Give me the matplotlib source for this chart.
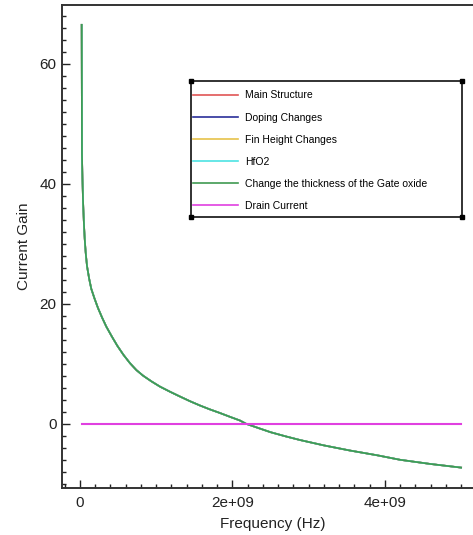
import matplotlib
matplotlib.use("Agg")
import matplotlib.pyplot as plt
from matplotlib.patches import Rectangle
from matplotlib.lines import Line2D
from matplotlib.ticker import MultipleLocator, FixedLocator, FixedFormatter

plt.rcParams['font.family'] = ['Liberation Sans', 'DejaVu Sans']

# ---- data ----
freq_ghz = [0.022, 0.026, 0.032, 0.039, 0.05, 0.062, 0.075, 0.092, 0.12, 0.148,
            0.19, 0.236, 0.29, 0.345, 0.42, 0.49, 0.57, 0.656, 0.74, 0.83,
            0.94, 1.049, 1.18, 1.311, 1.44, 1.574, 1.7, 1.836, 1.97, 2.098,
            2.18, 2.35, 2.5, 2.7, 2.885, 3.2, 3.54, 3.9, 4.2, 4.6, 5.0]
gain_main = [66.5, 45.0, 41.0, 37.5, 33.8, 30.8, 28.5, 26.3, 24.2, 22.5,
             20.9, 19.3, 17.7, 16.2, 14.5, 13.0, 11.5, 10.1, 8.95, 8.0,
             7.05, 6.2, 5.35, 4.55, 3.78, 3.05, 2.42, 1.8, 1.15, 0.55,
             0.0, -0.75, -1.4, -2.1, -2.7, -3.6, -4.45, -5.25, -6.0, -6.7, -7.3]
gain_doping = gain_main
gain_fin = gain_main
gain_hfo2 = gain_main
gain_oxide = gain_main
drain_freq_ghz = [0.022, 5.0]
drain_current = [0.0, 0.0]

series_labels = ["Main Structure", "Doping Changes", "Fin Height Changes",
                 "HfO2", "Change the thickness of the Gate oxide"]
series_colors = ["#e05555", "#2a2f9a", "#e6c24a", "#4de3e3", "#3f9a52"]
drain_label = "Drain Current"
drain_color = "#e040e0"

x_ticks = [0, 2e9, 4e9]
x_tick_labels = ["0", "2e+09", "4e+09"]
y_ticks = [0, 20, 40, 60]

W, H = 473, 535
fig = plt.figure(figsize=(W / 100, H / 100), dpi=100)
ax = fig.add_axes([62 / W, 1 - 488 / H, (484 - 62) / W, (488 - 5) / H])

freq = [f * 1e9 for f in freq_ghz]
all_gains = [gain_main, gain_doping, gain_fin, gain_hfo2, gain_oxide]
for g, lab, col in zip(all_gains, series_labels, series_colors):
    ax.plot(freq, g, color=col, lw=1.2, label=lab, solid_joinstyle='round')
ax.plot([f * 1e9 for f in drain_freq_ghz], drain_current, color=drain_color,
        lw=1.5, label=drain_label)

ax.set_xlim(-0.236e9, 5.3e9)
ax.set_ylim(-10.7, 69.8)

ax.xaxis.set_major_locator(FixedLocator(x_ticks))
ax.xaxis.set_major_formatter(FixedFormatter(x_tick_labels))
ax.xaxis.set_minor_locator(MultipleLocator(0.2e9))
ax.yaxis.set_major_locator(FixedLocator(y_ticks))
ax.yaxis.set_minor_locator(MultipleLocator(2))
ax.tick_params(which='both', direction='in', colors='#222222', labelsize=11,
               top=False, right=False)
ax.tick_params(which='major', length=6, width=1.0)
ax.tick_params(axis='x', which='major', pad=6)
ax.tick_params(axis='y', which='major', pad=4)
ax.tick_params(which='minor', length=3, width=1.0)
for sp in ax.spines.values():
    sp.set_color('#333333')
    sp.set_linewidth(1.4)

ax.set_xlabel("Frequency (Hz)", fontsize=11, color='#222222', labelpad=5)
ax.set_ylabel("Current Gain", fontsize=11, color='#222222', labelpad=6)

# legend
leg = ax.legend(loc='upper left', bbox_to_anchor=(193 / W, 1 - 90.5 / H),
                bbox_transform=fig.transFigure, frameon=False, fontsize=7.5,
                handlelength=4.3, handletextpad=0.7, labelspacing=1.16,
                borderpad=0, borderaxespad=0)
for line in leg.get_lines():
    line.set_linewidth(1.2)

# legend box with corner markers
x0, y0, x1, y1 = 191 / W, 1 - 217 / H, 462 / W, 1 - 81 / H
fig.add_artist(Rectangle((x0, y0), x1 - x0, y1 - y0, transform=fig.transFigure,
                         fill=False, edgecolor='#222222', lw=1.3, zorder=10))
fig.add_artist(Line2D([x0, x1, x0, x1], [y0, y0, y1, y1], transform=fig.transFigure,
                      ls='none', marker='s', ms=3, color='black', zorder=11))

fig.savefig("out.png", dpi=100)
